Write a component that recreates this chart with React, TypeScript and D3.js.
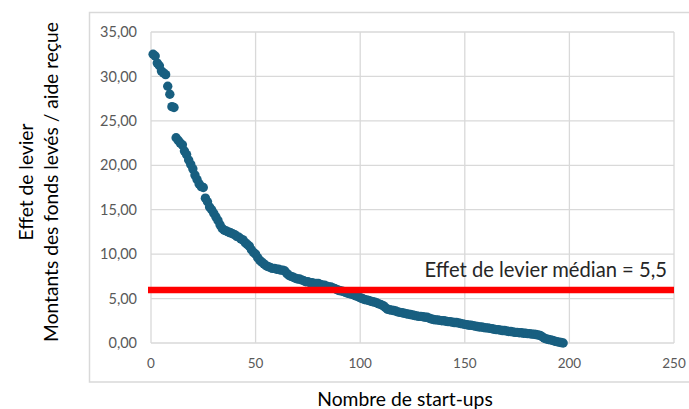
import React from "react";
import * as d3 from "d3";

const leverValues: number[] = [
  32.5, 32.3, 31.5, 31.2, 30.6, 30.4, 30.2, 28.9, 28.0, 26.6,
  26.5, 23.1, 22.8, 22.5, 22.3, 21.6, 21.2, 20.6, 20.1, 19.6,
  18.9, 18.4, 17.9, 17.6, 17.5, 16.3, 15.9, 15.3, 15.0, 14.6,
  14.2, 13.8, 13.3, 12.9, 12.7, 12.6, 12.5, 12.4, 12.3, 12.2,
  12.0, 11.9, 11.7, 11.6, 11.3, 11.1, 10.9, 10.5, 10.2, 10.0,
  9.6, 9.3, 9.1, 8.9, 8.7, 8.6, 8.5, 8.4, 8.4, 8.3,
  8.3, 8.2, 8.2, 8.1, 7.8, 7.6, 7.5, 7.4, 7.3, 7.2,
  7.2, 7.1, 7.0, 6.9, 6.9, 6.8, 6.8, 6.7, 6.7, 6.7,
  6.6, 6.5, 6.5, 6.4, 6.3, 6.3, 6.2, 6.1, 6.0, 5.9,
  5.85, 5.8, 5.7, 5.6, 5.55, 5.5, 5.4, 5.3, 5.2, 5.1,
  5.0, 4.9, 4.85, 4.8, 4.7, 4.65, 4.6, 4.5, 4.4, 4.3,
  4.2, 4.0, 3.8, 3.75, 3.7, 3.65, 3.6, 3.5, 3.45, 3.4,
  3.35, 3.3, 3.25, 3.2, 3.15, 3.1, 3.05, 3.0, 3.0, 2.95,
  2.9, 2.9, 2.8, 2.7, 2.65, 2.6, 2.6, 2.55, 2.5, 2.5,
  2.45, 2.4, 2.4, 2.35, 2.3, 2.3, 2.25, 2.2, 2.15, 2.1,
  2.05, 2.0, 2.0, 1.95, 1.9, 1.85, 1.8, 1.8, 1.75, 1.7,
  1.7, 1.65, 1.6, 1.55, 1.5, 1.5, 1.45, 1.4, 1.4, 1.35,
  1.3, 1.3, 1.25, 1.2, 1.2, 1.15, 1.15, 1.1, 1.1, 1.05,
  1.05, 1.0, 1.0, 0.95, 0.9, 0.85, 0.7, 0.55, 0.45, 0.4,
  0.35, 0.3, 0.2, 0.15, 0.1, 0.05, 0.0,
];

const xTicks: number[] = [0, 50, 100, 150, 200, 250];
const yTicks: number[] = [0, 5, 10, 15, 20, 25, 30, 35];
const medianLineValue = 5.96;
const medianLabel = "Effet de levier médian = 5,5";
const xTitle = "Nombre de start-ups";
const yTitleLines: string[] = ["Effet de levier", "Montants des fonds levés / aide reçue"];

export default function App() {
  const W = 689;
  const H = 409;
  const left = 151;
  const right = 674;
  const top = 32;
  const bottom = 343;

  const x = d3.scaleLinear().domain([0, 250]).range([left, right]);
  const y = d3.scaleLinear().domain([0, 35]).range([bottom, top]);

  const fmtY = (v: number) => v.toFixed(2).replace(".", ",");
  const font = "Lato, 'Open Sans', sans-serif";
  const grid = "#d9d9d9";

  return (
    <svg
      width={W}
      height={H}
      style={{ position: "absolute", left: 0, top: 0, background: "#fff" }}
      fontFamily={font}
    >
      <rect x={89.5} y={12.5} width={W} height={369.5} fill="none" stroke={grid} strokeWidth={1.5} />
      {yTicks.map((t) => (
        <line key={"gy" + t} x1={left} x2={right} y1={y(t)} y2={y(t)} stroke={grid} strokeWidth={1.3} />
      ))}
      {xTicks.map((t) => (
        <line key={"gx" + t} x1={x(t)} x2={x(t)} y1={top} y2={bottom} stroke={grid} strokeWidth={1.3} />
      ))}
      {yTicks.map((t) => (
        <text key={"ty" + t} x={137} y={y(t)} dy="0.35em" textAnchor="end" fontSize={14.5} fill="#595959">
          {fmtY(t)}
        </text>
      ))}
      {xTicks.map((t) => (
        <text key={"tx" + t} x={x(t)} y={368} textAnchor="middle" fontSize={13.5} fill="#595959">
          {t}
        </text>
      ))}
      {leverValues.map((v, i) => (
        <circle key={"p" + i} cx={x(i + 1)} cy={y(v)} r={4.7} fill="#185f80" />
      ))}
      <line
        x1={148}
        x2={right}
        y1={y(medianLineValue)}
        y2={y(medianLineValue)}
        stroke="#ff0000"
        strokeWidth={6.5}
      />
      <text x={667} y={277} textAnchor="end" fontSize={20.2} fill="#262626">
        {medianLabel}
      </text>
      <text x={405} y={406} textAnchor="middle" fontSize={19.3} fill="#000">
        {xTitle}
      </text>
      {yTitleLines.map((s, i) => (
        <text
          key={"yt" + i}
          transform={`translate(${33 + i * 25},182) rotate(-90)`}
          textAnchor="middle"
          fontSize={19.2}
          fill="#000"
        >
          {s}
        </text>
      ))}
    </svg>
  );
}
